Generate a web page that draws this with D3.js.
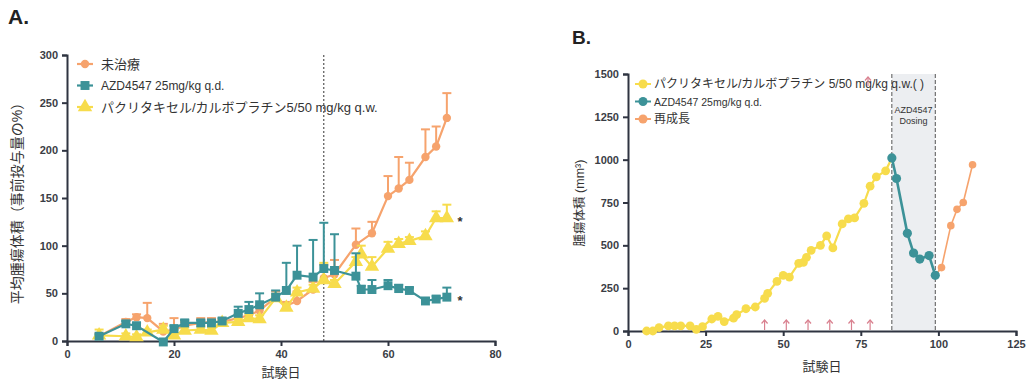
<!DOCTYPE html>
<html>
<head>
<meta charset="utf-8">
<script src="https://cdn.jsdelivr.net/npm/d3@7"></script>
<style>
  html, body { margin: 0; padding: 0; background: #fff; }
  svg { display: block; font-family: "Liberation Sans", Arial, "Noto Sans CJK JP", sans-serif; }
  .tick text { font-size: 11px; font-weight: 700; fill: #3a3d45; }
  .tick line, .domain { stroke: #2f3441; stroke-width: 2px; }
</style>
</head>
<body>
<svg id="chart" width="1026" height="381"></svg>
<script>
// ---- Panel A: relative tumour volume, mean with upper error bars ----
const daysA = [6, 11, 13, 15, 18, 20, 22, 25, 27, 29, 32, 34, 36, 39, 41, 43, 46, 48, 50, 54, 55, 57, 60, 62, 64, 67, 69, 71];
const untreated    = [5, 20, 25, 24, 10, 12, 16, 19, 20, 20, 24, 27, 32, 46, 37, 42, 54, 66, 70, 101, null, 113, 152, 160, 169, 193, 204, 234];
const untreatedErr = [3, 3, 3, 16, 8, 12, 4, 5, 4, 3, 4, 4, 5, 6, 4, 10, 8, 14, 15, 17, null, 12, 21, 33, 18, 29, 21, 26];
const azd          = [5, 18, 16, null, -1, 13, 19, 19, 19, 21, 29, 33, 38, 46, 53, 69, 67, 76, 74, 68, 54, 54, 58, 55, 53, 42, 44, 46];
const azdErr       = [2, 3, 3, null, 2, 3, 3, 3, 3, 3, 7, 8, 12, 7, 29, 31, 39, 48, 38, 24, 4, 10, 6, 4, 3, 3, 3, 10];
const pacCarbo     = [6, 5, 4, 9, 12, 6, 11, 12, 11, 19, 20, 24, 23, 45, 35, 51, 55, 64, 60, 83, 91, 78, 97, 102, 105, 110, 129, 129];
const pacCarboErr  = [6, 3, 3, 3, 4, 6, 3, 3, 3, 3, 3, 4, 4, 4, 4, 5, 4, 18, 4, 5, 9, 10, 7, 5, 4, 5, 7, 14];
const ticksAX = [0, 20, 40, 60, 80];
const ticksAY = [0, 50, 100, 150, 200, 250, 300];
const dosingStartA = 48;
const significantA = [129, 46];   // levels marked with "*"
const legendA = ["未治療", "AZD4547 25mg/kg q.d.", "パクリタキセル/カルボプラチン5/50 mg/kg q.w."];

// ---- Panel B: individual tumour volume ----
const daysPC   = [6, 8, 10, 13, 15, 17, 20, 22, 24, 27, 29, 31, 34, 35, 38, 41, 44, 45, 48, 50, 52, 55, 56.5, 57.5, 59, 62, 64, 66, 69, 71, 73, 76, 78, 80, 83];
const volPC    = [0, 0, 20, 30, 30, 30, 30, 10, 25, 70, 85, 55, 75, 95, 130, 140, 190, 220, 290, 325, 315, 395, 400, 430, 470, 500, 555, 485, 625, 655, 660, 745, 845, 900, 935];
const daysAZD  = [85, 86.5, 90, 92, 94, 97, 99];
const volAZD   = [1010, 890, 570, 455, 420, 440, 325];
const daysRegrow = [101, 104, 106, 108, 111];
const volRegrow  = [370, 615, 710, 750, 970];
const doseDaysPC = [44, 51, 58, 65, 72, 78];
const azdWindow  = [85, 99];
const ticksBX = [0, 25, 50, 75, 100, 125];
const ticksBY = [0, 250, 500, 750, 1000, 1250, 1500];
const legendB = ["パクリタキセル/カルボプラチン 5/50 mg/kg q.w.( )", "AZD4547 25mg/kg q.d.", "再成長"];

const ORANGE = "#f6a36d", TEAL = "#3c9298", YELLOW = "#f7dc4c", ARROW = "#d9808f";

const svg = d3.select("#chart");

// ================= Panel A =================
const xA = d3.scaleLinear().domain([0, 80]).range([67, 495]);
const yA = d3.scaleLinear().domain([0, 300]).range([341, 55]);

svg.append("g").attr("transform", `translate(0,${yA(0)})`)
  .call(d3.axisBottom(xA).tickValues(ticksAX).tickSizeOuter(0).tickSize(5).tickPadding(4));
svg.append("g").attr("transform", `translate(${xA(0)},0)`)
  .call(d3.axisLeft(yA).tickValues(ticksAY).tickSizeOuter(0).tickSize(5).tickPadding(4));

// start of dosing
svg.append("line")
  .attr("x1", xA(dosingStartA)).attr("x2", xA(dosingStartA))
  .attr("y1", yA(300)).attr("y2", yA(0))
  .attr("stroke", "#333").attr("stroke-width", 1).attr("stroke-dasharray", "2,2");

const symA = {
  circle: d3.symbol().type(d3.symbolCircle).size(55),
  square: d3.symbol().type(d3.symbolSquare).size(80),
  triangle: d3.symbol().type(d3.symbolTriangle).size(90)
};

function drawSeriesA(vals, errs, color, sym) {
  const pts = daysA.map((d, i) => ({ d, v: vals[i], e: errs[i] })).filter(p => p.v != null);
  const g = svg.append("g");
  g.selectAll("g.err").data(pts).join("g").attr("class", "err")
    .each(function (p) {
      const s = d3.select(this);
      const x = xA(p.d), y0 = yA(p.v), y1 = yA(p.v + p.e);
      s.append("line").attr("x1", x).attr("x2", x).attr("y1", y0).attr("y2", y1)
        .attr("stroke", color).attr("stroke-width", 2);
      s.append("line").attr("x1", x - 4.5).attr("x2", x + 4.5).attr("y1", y1).attr("y2", y1)
        .attr("stroke", color).attr("stroke-width", 2);
    });
  g.append("path").datum(pts)
    .attr("d", d3.line().x(p => xA(p.d)).y(p => yA(p.v)))
    .attr("fill", "none").attr("stroke", color).attr("stroke-width", 2.2);
  g.selectAll("path.m").data(pts).join("path").attr("class", "m")
    .attr("d", sym).attr("fill", color)
    .attr("transform", p => `translate(${xA(p.d)},${yA(p.v)})`);
}

drawSeriesA(untreated, untreatedErr, ORANGE, symA.circle);
drawSeriesA(pacCarbo, pacCarboErr, YELLOW, symA.triangle);
drawSeriesA(azd, azdErr, TEAL, symA.square);

svg.selectAll("text.sig").data(significantA).join("text").attr("class", "sig")
  .attr("x", xA(73)).attr("y", v => yA(v) + 8)
  .attr("font-size", 13).attr("font-weight", 700).attr("fill", "#333").text("*");

// legend A
const legA = svg.append("g");
[[ORANGE, symA.circle], [TEAL, symA.square], [YELLOW, symA.triangle]].forEach(([c, s], i) => {
  const y = 64 + i * 21.5;
  legA.append("line").attr("x1", 77).attr("x2", 93).attr("y1", y).attr("y2", y)
    .attr("stroke", c).attr("stroke-width", 2.2);
  legA.append("path").attr("d", s).attr("fill", c).attr("transform", `translate(85,${y})`);
  legA.append("text").attr("x", 101).attr("y", y + 4.5)
    .attr("font-size", i === 1 ? 12 : 13).attr("fill", "#333").text(legendA[i]);
});

svg.append("text").attr("transform", `translate(22,200) rotate(-90)`)
  .attr("text-anchor", "middle").attr("font-size", 14).attr("fill", "#333")
  .text("平均腫瘍体積（事前投与量の%）");
svg.append("text").attr("x", 281).attr("y", 377).attr("text-anchor", "middle")
  .attr("font-size", 13).attr("fill", "#333").text("試験日");
svg.append("text").attr("x", 8).attr("y", 24).attr("font-size", 21).attr("font-weight", 700)
  .attr("fill", "#222").text("A.");

// ================= Panel B =================
const xB = d3.scaleLinear().domain([0, 125]).range([628, 1016]);
const yB = d3.scaleLinear().domain([0, 1500]).range([331, 74]);

// AZD4547 dosing window
svg.append("rect")
  .attr("x", xB(azdWindow[0])).attr("width", xB(azdWindow[1]) - xB(azdWindow[0]))
  .attr("y", yB(1500)).attr("height", yB(0) - yB(1500))
  .attr("fill", "#eceef1");
azdWindow.forEach(d => {
  svg.append("line").attr("x1", xB(d)).attr("x2", xB(d)).attr("y1", yB(1500)).attr("y2", yB(0))
    .attr("stroke", "#555").attr("stroke-width", 1).attr("stroke-dasharray", "4,2");
});
const midB = (xB(azdWindow[0]) + xB(azdWindow[1])) / 2;
svg.append("text").attr("x", midB).attr("y", 113).attr("text-anchor", "middle")
  .attr("font-size", 9).attr("fill", "#333").text("AZD4547");
svg.append("text").attr("x", midB).attr("y", 124).attr("text-anchor", "middle")
  .attr("font-size", 9).attr("fill", "#333").text("Dosing");

svg.append("g").attr("transform", `translate(0,${yB(0)})`)
  .call(d3.axisBottom(xB).tickValues(ticksBX).tickSizeOuter(0).tickSize(5).tickPadding(4));
svg.append("g").attr("transform", `translate(${xB(0)},0)`)
  .call(d3.axisLeft(yB).tickValues(ticksBY).tickFormat(d3.format("d")).tickSizeOuter(0).tickSize(5).tickPadding(4));

// weekly paclitaxel/carboplatin doses
function upArrow(g, x, yBase, h, color) {
  g.append("line").attr("x1", x).attr("x2", x).attr("y1", yBase).attr("y2", yBase - h)
    .attr("stroke", color).attr("stroke-width", 1.2);
  g.append("path").attr("d", `M${x - 3},${yBase - h + 3.5}L${x},${yBase - h}L${x + 3},${yBase - h + 3.5}`)
    .attr("fill", "none").attr("stroke", color).attr("stroke-width", 1.2);
}
const arrowsG = svg.append("g");
doseDaysPC.forEach(d => upArrow(arrowsG, xB(d), yB(0) - 1, 10, ARROW));

const lineB = d3.line().x(p => xB(p[0])).y(p => yB(p[1]));
const pc = daysPC.map((d, i) => [d, volPC[i]]);
const az = daysAZD.map((d, i) => [d, volAZD[i]]);
const rg = daysRegrow.map((d, i) => [d, volRegrow[i]]);

function drawSeriesB(pts, joinFrom, color, r, w) {
  const linePts = joinFrom ? [joinFrom].concat(pts) : pts;
  svg.append("path").datum(linePts).attr("d", lineB)
    .attr("fill", "none").attr("stroke", color).attr("stroke-width", w);
  svg.append("g").selectAll("circle").data(pts).join("circle")
    .attr("cx", p => xB(p[0])).attr("cy", p => yB(p[1]))
    .attr("r", r).attr("fill", color);
}
// yellow line runs into the first AZD4547 point; regrowth starts from the last
svg.append("path").datum([pc[pc.length - 1], az[0]]).attr("d", lineB)
  .attr("fill", "none").attr("stroke", YELLOW).attr("stroke-width", 2.2);
drawSeriesB(pc, null, YELLOW, 4.4, 2.2);
drawSeriesB(rg, az[az.length - 1], ORANGE, 3.8, 1.6);
drawSeriesB(az, null, TEAL, 4.6, 2.6);

// legend B
const legB = svg.append("g");
[YELLOW, TEAL, ORANGE].forEach((c, i) => {
  const y = 84 + i * 17.5;
  legB.append("line").attr("x1", 635).attr("x2", 651).attr("y1", y).attr("y2", y)
    .attr("stroke", c).attr("stroke-width", 2);
  legB.append("circle").attr("cx", 643).attr("cy", y).attr("r", 4.5).attr("fill", c);
  legB.append("text").attr("x", 654).attr("y", y + 4)
    .attr("font-size", i === 1 ? 10.5 : 12).attr("fill", "#333").text(legendB[i]);
});
upArrow(legB, 868, 86, 9, ARROW);

svg.append("text").attr("transform", `translate(584,203) rotate(-90)`)
  .attr("text-anchor", "middle").attr("font-size", 12.5).attr("fill", "#333")
  .text("腫瘍体積 (mm³)");
svg.append("text").attr("x", 822).attr("y", 371).attr("text-anchor", "middle")
  .attr("font-size", 13).attr("fill", "#333").text("試験日");
svg.append("text").attr("x", 572).attr("y", 44).attr("font-size", 19).attr("font-weight", 700)
  .attr("fill", "#222").text("B.");
</script>
</body>
</html>
